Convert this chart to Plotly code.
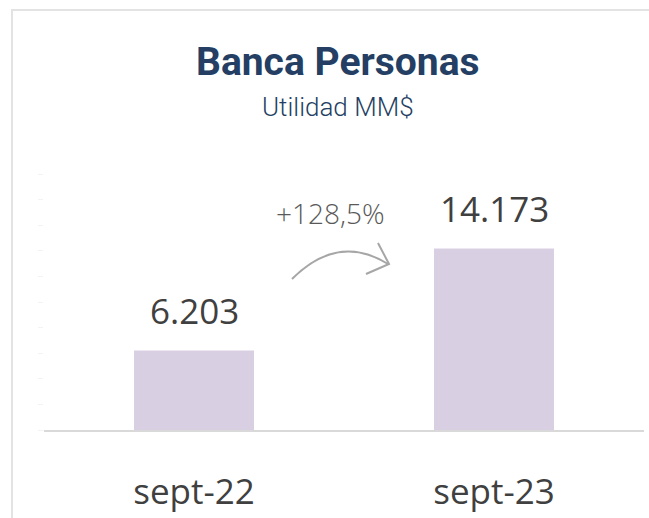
import plotly.graph_objects as go

categories = ["sept-22", "sept-23"]
values = [6203, 14173]
value_labels = ["6.203", "14.173"]
growth_label = "+128,5%"
title_text = "Banca Personas"
subtitle_text = "Utilidad MM$"

W, H = 649, 518
L, R, T, B = 44, 5, 174, 88
PW, PH = W - L - R, H - T - B

def px(x):
    return (x - L) / PW

def py(y):
    return (H - B - y) / PH

fig = go.Figure()
fig.add_trace(go.Bar(
    x=categories, y=values,
    marker=dict(color="#D9CFE3", line=dict(width=0)),
    width=0.4, hoverinfo="skip"
))

for c, v, t in zip(categories, values, value_labels):
    fig.add_annotation(x=c, y=v, text=t, showarrow=False, yanchor="bottom",
                       yshift=15, font=dict(family="Open Sans", size=35, color="#404040"))

def note(x, y, text, size, color, family, weight="normal"):
    fig.add_annotation(xref="paper", yref="paper", x=px(x), y=py(y), text=text,
                       xanchor="center", yanchor="middle", showarrow=False,
                       font=dict(family=family, size=size, color=color, weight=weight))

note(338, 62, title_text, 39, "#243F63", "Roboto", "bold")
note(338, 107, subtitle_text, 26, "#243F63", "Roboto", 300)
note(330, 213, growth_label, 28, "#595959", "Open Sans", 300)

def P(x, y):
    return "%f,%f" % (px(x), py(y))

fig.add_shape(type="path", xref="paper", yref="paper",
              path="M %s Q %s %s" % (P(292, 279), P(338, 233), P(388, 264)),
              line=dict(color="#A6A6A6", width=2))
fig.add_shape(type="path", xref="paper", yref="paper",
              path="M %s L %s L %s" % (P(378, 243), P(389, 264), P(366, 274)),
              line=dict(color="#A6A6A6", width=2))

fig.add_shape(type="line", xref="paper", yref="paper", x0=px(12), x1=px(12), y0=py(9), y1=py(530),
              line=dict(color="#E3E3E3", width=2))
fig.add_shape(type="line", xref="paper", yref="paper", x0=px(11), x1=px(660), y0=py(10), y1=py(10),
              line=dict(color="#E3E3E3", width=2))

fig.update_layout(
    width=W, height=H,
    margin=dict(l=L, r=R, t=T, b=B, pad=0, autoexpand=False),
    paper_bgcolor="white", plot_bgcolor="white",
    showlegend=False,
    xaxis=dict(showgrid=False, showline=True, linecolor="#D9D9D9", linewidth=2,
               ticks="", automargin=False,
               tickfont=dict(family="Open Sans", size=35, color="#404040"),
               ticklabelstandoff=30),
    yaxis=dict(range=[0, 20000], dtick=2000, showgrid=False, zeroline=False, automargin=False,
               showline=False, ticks="outside", ticklen=5, tickcolor="#F3F3F3",
               showticklabels=False),
)

fig.write_html("out.html", config={"displayModeBar": False},
               post_script="document.body.style.margin='0';document.body.style.overflow='hidden';")
